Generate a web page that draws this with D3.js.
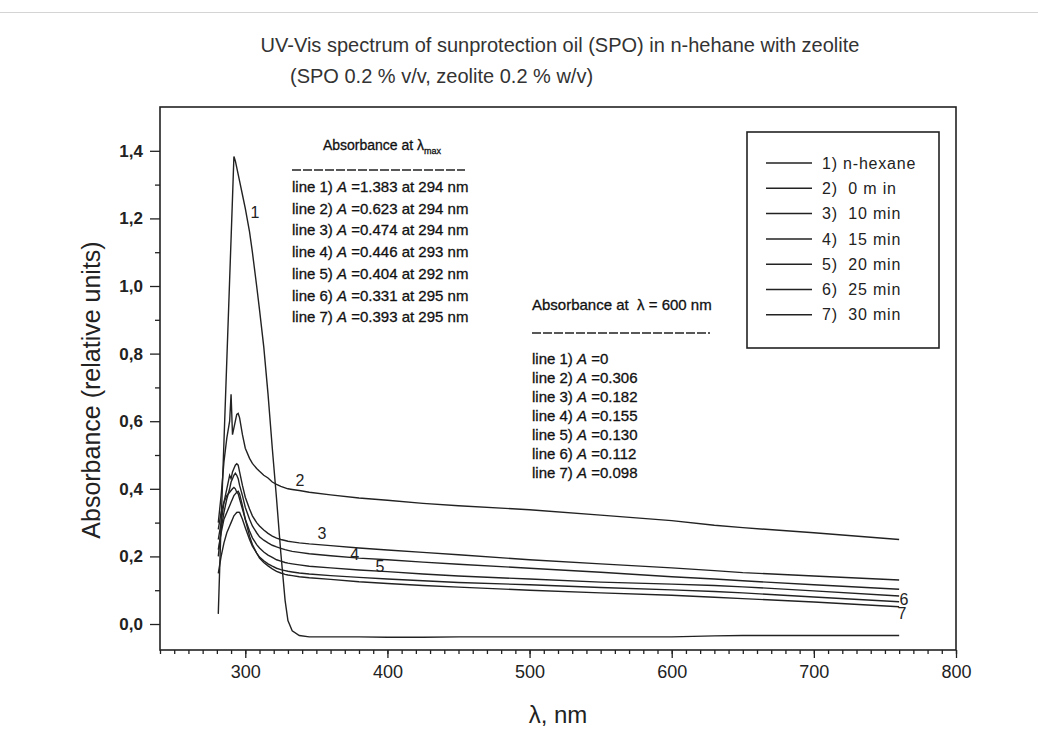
<!DOCTYPE html>
<html>
<head>
<meta charset="utf-8">
<script src="https://cdn.jsdelivr.net/npm/d3@7"></script>
<style>
  body { margin: 0; background: #fff; }
  text { font-family: "Liberation Sans", Arial, sans-serif; white-space: pre; }
</style>
</head>
<body>
<div id="chart"></div>
<script>
// Wavelengths (nm) shared by every spectrum
const wavelengths = [281, 283, 285, 287, 289, 290, 291, 292, 293, 294, 295, 296, 298, 300, 303, 305, 308, 310, 313, 316,
  319, 322, 325, 328, 330, 333, 338, 345, 360, 380, 400, 425, 450, 500, 550, 600, 630, 650, 700, 760];

// Absorbance, one array per line
const line1 = [0.03, 0.30, 0.54, 0.78, 1.02, 1.14, 1.26, 1.383, 1.37, 1.35, 1.33, 1.31, 1.27, 1.23, 1.16, 1.10, 1.00, 0.93, 0.82, 0.68,
  0.52, 0.37, 0.21, 0.07, 0.01, -0.02, -0.034, -0.038, -0.038, -0.038, -0.039, -0.039, -0.038, -0.038, -0.038, -0.038, -0.035, -0.034, -0.034, -0.034];
const line2 = [0.30, 0.38, 0.48, 0.55, 0.60, 0.68, 0.56, 0.58, 0.60, 0.62, 0.623, 0.61, 0.56, 0.52, 0.49, 0.475, 0.46, 0.452, 0.44, 0.432,
  0.42, 0.413, 0.407, 0.403, 0.40, 0.398, 0.395, 0.39, 0.382, 0.373, 0.366, 0.357, 0.35, 0.338, 0.322, 0.306, 0.292, 0.285, 0.27, 0.25];
const line3 = [0.25, 0.30, 0.36, 0.40, 0.44, 0.43, 0.45, 0.46, 0.47, 0.474, 0.47, 0.45, 0.41, 0.375, 0.34, 0.32, 0.30, 0.29, 0.278, 0.268,
  0.26, 0.254, 0.25, 0.247, 0.245, 0.243, 0.24, 0.237, 0.232, 0.225, 0.219, 0.212, 0.205, 0.19, 0.178, 0.166, 0.158, 0.152, 0.142, 0.13];
const line4 = [0.20, 0.28, 0.33, 0.37, 0.40, 0.42, 0.43, 0.44, 0.446, 0.44, 0.43, 0.41, 0.38, 0.345, 0.31, 0.29, 0.27, 0.258, 0.248, 0.24,
  0.233, 0.228, 0.224, 0.22, 0.218, 0.215, 0.212, 0.208, 0.202, 0.195, 0.19, 0.183, 0.177, 0.165, 0.153, 0.14, 0.133, 0.128, 0.116, 0.103];
const line5 = [0.28, 0.33, 0.36, 0.38, 0.39, 0.395, 0.40, 0.404, 0.40, 0.39, 0.385, 0.37, 0.34, 0.31, 0.275, 0.255, 0.235, 0.225, 0.213, 0.204,
  0.197, 0.19, 0.186, 0.182, 0.18, 0.178, 0.175, 0.171, 0.166, 0.16, 0.155, 0.148, 0.142, 0.133, 0.124, 0.118, 0.114, 0.11, 0.098, 0.083];
const line6 = [0.15, 0.20, 0.24, 0.27, 0.29, 0.30, 0.31, 0.32, 0.325, 0.33, 0.331, 0.33, 0.31, 0.285, 0.25, 0.23, 0.21, 0.198, 0.187, 0.178,
  0.171, 0.165, 0.161, 0.158, 0.156, 0.154, 0.151, 0.148, 0.143, 0.138, 0.133, 0.128, 0.123, 0.116, 0.108, 0.101, 0.096, 0.092, 0.08, 0.066];
const line7 = [0.22, 0.27, 0.31, 0.33, 0.35, 0.36, 0.37, 0.38, 0.385, 0.39, 0.393, 0.385, 0.35, 0.31, 0.26, 0.235, 0.21, 0.195, 0.182, 0.172,
  0.163, 0.156, 0.151, 0.147, 0.145, 0.143, 0.14, 0.137, 0.132, 0.125, 0.12, 0.114, 0.109, 0.1, 0.092, 0.085, 0.079, 0.075, 0.065, 0.051];

const allLines = [line1, line2, line3, line4, line5, line6, line7];
const legendNames = ["1) n-hexane", "2)  0 m in", "3)  10 min", "4)  15 min", "5)  20 min", "6)  25 min", "7)  30 min"];

// Text of the two annotation blocks
const maxValues = ["1.383", "0.623", "0.474", "0.446", "0.404", "0.331", "0.393"];
const maxNm = ["294", "294", "294", "293", "292", "295", "295"];
const at600Values = ["0", "0.306", "0.182", "0.155", "0.130", "0.112", "0.098"];

// Axis ticks
const xMajorTicks = [300, 400, 500, 600, 700, 800];
const yMajorTicks = [0, 0.2, 0.4, 0.6, 0.8, 1.0, 1.2, 1.4];

function BuildGraph(){
  let chart_width = 1038;
  let chart_height = 756;
  let left = 160, right = 956, top = 107, bottom = 650;
  let fontFam = '"Liberation Sans", Arial, sans-serif';

  let svg = d3.select('#chart')
    .append('svg')
    .attr('width', chart_width)
    .attr('height', chart_height);

  // faint page border line at the top
  svg.append('line')
    .attr('x1', 0).attr('x2', chart_width)
    .attr('y1', 12.5).attr('y2', 12.5)
    .attr('stroke', '#d4d4d4');

  let x_scale = d3.scaleLinear().domain([240, 800]).range([left, right]);
  let y_scale = d3.scaleLinear().domain([-0.0769, 1.5296]).range([bottom, top]);

  // Title
  svg.append('text')
    .attr('x', 560).attr('y', 52)
    .attr('text-anchor', 'middle')
    .style('font-size', '20px')
    .attr('fill', '#333')
    .text('UV-Vis spectrum of sunprotection oil (SPO) in n-hehane with zeolite');
  svg.append('text')
    .attr('x', 290).attr('y', 83)
    .style('font-size', '20px')
    .attr('fill', '#333')
    .text('(SPO 0.2 % v/v, zeolite 0.2 % w/v)');

  // Axes
  let xMinor = d3.axisBottom(x_scale).tickValues(d3.range(240, 801, 10)).tickSize(4).tickFormat('');
  svg.append('g').attr('transform', 'translate(0,' + bottom + ')').call(xMinor);
  let xMajor = d3.axisBottom(x_scale).tickValues(xMajorTicks).tickSize(8).tickPadding(7);
  let gx = svg.append('g').attr('transform', 'translate(0,' + bottom + ')').call(xMajor);
  gx.selectAll('text').attr('font-family', fontFam).style('font-size', '18px').attr('fill', '#222');

  let yMinor = d3.axisLeft(y_scale).tickValues(d3.range(0.1, 1.45, 0.2)).tickSize(5).tickFormat('');
  svg.append('g').attr('transform', 'translate(' + left + ',0)').call(yMinor);
  let yMajor = d3.axisLeft(y_scale).tickValues(yMajorTicks).tickSize(10).tickPadding(7)
    .tickFormat((d) => d.toFixed(1).replace('.', ','));
  let gy = svg.append('g').attr('transform', 'translate(' + left + ',0)').call(yMajor);
  gy.selectAll('text').attr('font-family', fontFam).style('font-size', '17px').style('font-weight', 'bold').attr('fill', '#222');

  svg.selectAll('.domain').remove();
  svg.selectAll('.tick line').attr('stroke', '#222').attr('stroke-width', 1.3);

  // Frame
  svg.append('rect')
    .attr('x', x_scale(240)).attr('y', y_scale(1.5296))
    .attr('width', x_scale(800) - x_scale(240))
    .attr('height', y_scale(-0.0769) - y_scale(1.5296))
    .attr('fill', 'none').attr('stroke', '#222').attr('stroke-width', 1.6);

  // Axis titles
  svg.append('text')
    .attr('text-anchor', 'middle')
    .attr('transform', 'translate(100,390)rotate(-90)')
    .style('font-size', '25px').attr('fill', '#222')
    .text('Absorbance (relative units)');
  svg.append('text')
    .attr('x', (left + right) / 2).attr('y', 723)
    .attr('text-anchor', 'middle')
    .style('font-size', '24px').attr('fill', '#222')
    .text('λ, nm');

  // Spectra
  let line = d3.line()
    .x((d, i) => x_scale(wavelengths[i]))
    .y((d) => y_scale(d));
  svg.selectAll('path.spec')
    .data(allLines)
    .enter()
    .append('path')
    .attr('class', 'spec')
    .attr('d', (d) => line(d))
    .attr('fill', 'none')
    .attr('stroke', '#222')
    .attr('stroke-width', 1.4);

  // Curve numbers
  let curveLabels = [[306.8, 1.219, '1'], [338.5, 0.426, '2'], [354, 0.269, '3'], [377, 0.207, '4'],
    [394.8, 0.169, '5'], [763.4, 0.074, '6'], [762, 0.030, '7']];
  svg.selectAll('text.curve')
    .data(curveLabels)
    .enter()
    .append('text')
    .attr('class', 'curve')
    .attr('x', (d) => x_scale(d[0]))
    .attr('y', (d) => y_scale(d[1]))
    .attr('dy', '0.35em')
    .attr('text-anchor', 'middle')
    .style('font-size', '16px').attr('fill', '#222')
    .text((d) => d[2]);

  // Annotation block: maximum
  let b1 = svg.append('g').style('font-size', '15px').attr('fill', '#111')
    .attr('stroke', '#111').attr('stroke-width', 0.3);
  let h1 = b1.append('text').attr('x', 382).attr('y', 150).attr('text-anchor', 'middle').style('font-size', '14px');
  h1.append('tspan').text('Absorbance at λ');
  h1.append('tspan').attr('dy', 4).style('font-size', '9px').text('max');
  b1.append('line').attr('x1', 292).attr('x2', 465).attr('y1', 170).attr('y2', 170)
    .attr('stroke', '#222').attr('stroke-width', 1.4).attr('stroke-dasharray', '9,2');
  maxValues.forEach(function(v, i){
    let t = b1.append('text').attr('x', 292).attr('y', 192 + i * 21.7);
    t.append('tspan').text('line ' + (i + 1) + ') ');
    t.append('tspan').style('font-style', 'italic').text('A');
    t.append('tspan').text(' =' + v + ' at ' + maxNm[i] + ' nm');
  });

  // Annotation block: 600 nm
  let b2 = svg.append('g').style('font-size', '15px').attr('fill', '#111')
    .attr('stroke', '#111').attr('stroke-width', 0.3);
  b2.append('text').attr('x', 532).attr('y', 310).text('Absorbance at  λ = 600 nm');
  b2.append('line').attr('x1', 532).attr('x2', 710).attr('y1', 333).attr('y2', 333)
    .attr('stroke', '#222').attr('stroke-width', 1.4).attr('stroke-dasharray', '9,2');
  at600Values.forEach(function(v, i){
    let t = b2.append('text').attr('x', 532).attr('y', 364 + i * 19);
    t.append('tspan').text('line ' + (i + 1) + ') ');
    t.append('tspan').style('font-style', 'italic').text('A');
    t.append('tspan').text(' =' + v);
  });

  // Legend
  let legend = svg.append('g').attr('id', 'legend');
  legend.append('rect')
    .attr('x', 747).attr('y', 132).attr('width', 192).attr('height', 216)
    .attr('fill', '#fff').attr('stroke', '#222').attr('stroke-width', 1.6);
  legendNames.forEach(function(name, i){
    let ly = 163 + i * 25.3;
    legend.append('line').attr('x1', 766).attr('x2', 812).attr('y1', ly).attr('y2', ly)
      .attr('stroke', '#222').attr('stroke-width', 1.5);
    legend.append('text').attr('x', 822).attr('y', ly).attr('dy', '0.35em')
      .style('font-size', '16px').style('letter-spacing', '0.8px').attr('fill', '#222')
      .text(name);
  });
}

document.addEventListener('DOMContentLoaded', function(){
  BuildGraph();
});
</script>
</body>
</html>
